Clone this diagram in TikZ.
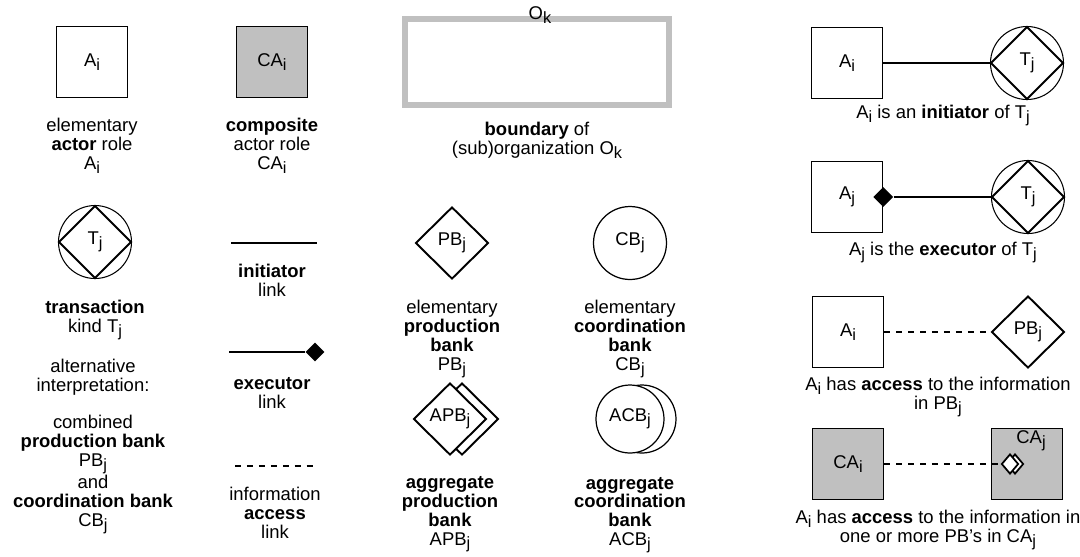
\documentclass[tikz,border=0pt]{standalone}
\usepackage{fontspec}
\setmainfont{Liberation Sans}
\usetikzlibrary{shapes.geometric, positioning}
\definecolor{cagray}{RGB}{192,192,192}
\newcommand{\ix}[1]{\raisebox{-2pt}{\fontsize{9.3}{9.5}\selectfont #1}}
\tikzstyle{actorbox} = [rectangle, draw=black, line width=0.8pt, minimum size=1.42cm, inner sep=0pt]
\tikzstyle{compositebox} = [actorbox, fill=cagray]
\tikzstyle{orgboundary} = [rectangle, draw=cagray, line width=0.12cm, minimum width=5.3cm, minimum height=1.72cm]
\tikzstyle{transcircle} = [circle, draw=black, line width=0.6pt, minimum size=1.46cm, inner sep=0pt]
\tikzstyle{transdiamond} = [diamond, draw=black, line width=1.1pt, minimum width=1.46cm, minimum height=1.46cm, inner sep=0pt]
\tikzstyle{pbank} = [diamond, draw=black, line width=1.1pt, fill=white, minimum width=1.46cm, minimum height=1.44cm, inner sep=0pt]
\tikzstyle{cbank} = [circle, draw=black, line width=0.7pt, fill=white, minimum size=1.46cm, inner sep=0pt]
\tikzstyle{acbank} = [cbank, minimum size=1.36cm]
\tikzstyle{execdot} = [diamond, fill=black, minimum width=0.4cm, minimum height=0.4cm, inner sep=0pt]
\tikzstyle{smallpb} = [diamond, draw=black, line width=1pt, fill=white, minimum width=0.34cm, minimum height=0.4cm, inner sep=0pt]
\tikzstyle{capt} = [align=center, inner sep=0pt, anchor=north]
\tikzstyle{linkline} = [line width=0.7pt]
\tikzstyle{accessline} = [linkline, dash pattern=on 3.4pt off 3.4pt]

\begin{document}
\begin{tikzpicture}[x=0.02cm, y=-0.02cm, font=\fontsize{10.5}{10.8}\selectfont]
    \useasboundingbox (0,0) rectangle (1080,556);

    % Actor roles and boundary
    \node (a1) [actorbox] at (92,62) {A\ix{i}};
    \node (la1) [capt, below=0.4cm of a1] {elementary\\\textbf{actor} role\\A\ix{i}};

    \node (ca1) [compositebox] at (272,62) {CA\ix{i}};
    \node (lca1) [capt, below=0.4cm of ca1] {\textbf{composite}\\actor role\\CA\ix{i}};

    \node (ok) [orgboundary] at (537,62) {};
    \node (okl) [inner sep=0pt] at (540,15) {O\ix{k}};
    \node (lok) [capt, below=0.28cm of ok] {\textbf{boundary} of\\(sub)organization O\ix{k}};

    % Transaction kind
    \node (t1) [transcircle] at (95,242) {T\ix{j}};
    \node (t1d) [transdiamond] at (t1) {};
    \node (lt1) [capt, below=0.42cm of t1] {\textbf{transaction}\\kind T\ix{j}};
    \node (lt2) [capt] at (93,359) {alternative\\interpretation:};
    \node (lt3) [capt] at (93,415) {combined\\\textbf{production bank}\\PB\ix{j}\\and\\\textbf{coordination bank}\\CB\ix{j}};

    % Links
    \coordinate (il1) at (231,243);
    \coordinate (il2) at (317,243);
    \draw [linkline] (il1) -- (il2);
    \node (lil) [capt] at (272,264) {\textbf{initiator}\\link};

    \coordinate (el1) at (229,352);
    \node (eld) [execdot, minimum width=0.38cm, minimum height=0.38cm] at (315,352) {};
    \draw [linkline] (el1) -- (eld);
    \node (lel) [capt] at (272,377) {\textbf{executor}\\link};

    \coordinate (al1) at (235,466);
    \coordinate (al2) at (317,466);
    \draw [accessline] (al1) -- (al2);
    \node (lal) [capt] at (275,487) {information\\\textbf{access}\\link};

    % Banks
    \node (pb1) [pbank] at (452,243) {PB\ix{j}};
    \node (lpb1) [capt, below=0.4cm of pb1] {elementary\\\textbf{production}\\\textbf{bank}\\PB\ix{j}};

    \node (cb1) [cbank] at (630,243) {CB\ix{j}};
    \node (lcb1) [capt, below=0.4cm of cb1] {elementary\\\textbf{coordination}\\\textbf{bank}\\CB\ix{j}};

    \node (apbb) [pbank] at (462,419) {};
    \node (apb) [pbank] at (450,419) {APB\ix{j}};
    \node (lapb) [capt, below=0.4cm of apb] {\textbf{aggregate}\\\textbf{production}\\\textbf{bank}\\APB\ix{j}};

    \node (acbb) [acbank] at (642,419) {};
    \node (acb) [acbank] at (630,419) {ACB\ix{j}};
    \node (lacb) [capt, below=0.46cm of acb] {\textbf{aggregate}\\\textbf{coordination}\\\textbf{bank}\\ACB\ix{j}};

    % Examples
    \node (a2) [actorbox] at (847,63) {A\ix{i}};
    \node (t2) [transcircle] at (1027,63) {T\ix{j}};
    \node (t2d) [transdiamond] at (t2) {};
    \draw [linkline] (a2) -- (t2);
    \node (la2) [capt] at (943,105) {A\ix{i} is an \textbf{initiator} of T\ix{j}};

    \node (a3) [actorbox] at (847,197) {A\ix{j}};
    \node (a3d) [execdot] at (a3.east) {};
    \node (t3) [transcircle] at (1028,197) {T\ix{j}};
    \node (t3d) [transdiamond] at (t3) {};
    \draw [linkline] (a3d) -- (t3);
    \node (la3) [capt] at (943,242) {A\ix{j} is the \textbf{executor} of T\ix{j}};

    \node (a4) [actorbox] at (848,332) {A\ix{i}};
    \node (pb2) [pbank] at (1028,332) {PB\ix{j}};
    \draw [accessline] (a4) -- (pb2);
    \node (la4) [capt] at (938,377) {A\ix{i} has \textbf{access} to the information\\in PB\ix{j}};

    \node (ca2) [compositebox] at (848,464) {CA\ix{i}};
    \node (ca3) [compositebox] at (1027,464) {};
    \node (ca3l) [inner sep=0pt] at (1031,441) {CA\ix{j}};
    \node (spbb) [smallpb] at (1015,464) {};
    \node (spb) [smallpb] at (1010,464) {};
    \draw [accessline] (ca2) -- (spb);
    \node (la5) [capt] at (938,510) {A\ix{i} has \textbf{access} to the information in\\one or more PB’s in CA\ix{j}};

\end{tikzpicture}
\end{document}
